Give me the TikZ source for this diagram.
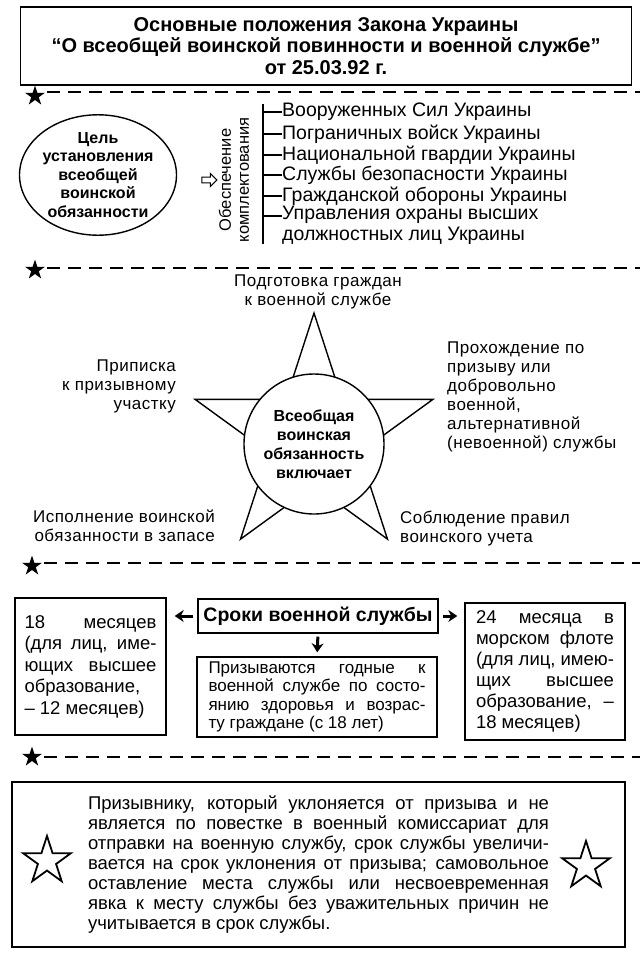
\documentclass[tikz,border=0pt]{standalone}
\usepackage{fontspec}
\setmainfont{Liberation Sans}
\usetikzlibrary{shapes.geometric, shapes.arrows, arrows.meta, positioning}
\newcommand{\fs}[2]{\fontsize{#1}{#2}\selectfont}

\begin{document}
\begin{tikzpicture}[x=1pt, y=-1pt,
    titlebox/.style={draw, line width=1.4pt, minimum width=611, minimum height=78,
                     align=center, font=\fs{20}{21.5}\bfseries},
    goal/.style={ellipse, draw, line width=1.4pt, minimum width=157, minimum height=110,
                 inner sep=0pt, align=center, font=\fs{16}{18.5}\bfseries},
    item/.style={anchor=west, inner sep=0pt, font=\fs{19.5}{21}},
    point/.style={inner sep=0pt, font=\fs{17}{19}\addfontfeature{LetterSpace=3}},
    divider/.style={line width=1.5pt, dash pattern=on 13pt off 8pt, shorten <=6pt},
    dotstar/.style={star, star points=5, star point ratio=2.618, fill=black,
                    minimum size=21, inner sep=0pt},
    hollowstar/.style={star, star points=5, star point ratio=2.618, draw,
                       line width=1.8pt, minimum size=50, inner sep=0pt},
    termbox/.style={draw, line width=1.4pt, font=\fs{18.5}{21.5}},
    arrow/.style={-{Stealth[length=9pt, width=12pt]}, line width=3pt}
]
    \useasboundingbox[fill=white] (0,0) rectangle (640,956);

    \node[titlebox] (title) at (326,46)
        {Основные положения Закона Украины\\“О всеобщей воинской повинности и военной службе”\\от 25.03.92 г.};

    \node[dotstar] (s1) at (35,96) {};
    \coordinate (e1) at (640,92);
    \draw[divider] (s1.east |- e1) -- (e1);

    \node[goal] (goal) at (98,175) {Цель\\установления\\всеобщей\\воинской\\обязанности};
    \node[single arrow, draw, line width=1pt, minimum height=15, minimum width=13,
          single arrow head extend=2pt, inner sep=1pt] (hollow) at (208,180) {};
    \node[rotate=90, align=center, inner sep=0pt, font=\fs{16.5}{18}] (supply) at (234,180)
        {Обеспечение\\комплектования};

    \coordinate (btop) at (263,104);
    \coordinate (bbot) at (263,244);
    \draw[line width=1.4pt] (btop) -- (bbot);
    \node[item] (i1) at (282,112) {Вооруженных Сил Украины};
    \node[item] (i2) at (282,134) {Пограничных войск Украины};
    \node[item] (i3) at (282,155) {Национальной гвардии Украины};
    \node[item] (i4) at (282,175) {Службы безопасности Украины};
    \node[item] (i5) at (282,196) {Гражданской обороны Украины};
    \node[item, anchor=north west, align=left] (i6) at (282,206)
        {Управления охраны высших\\должностных лиц Украины};
    \coordinate (i6tick) at ([yshift=-10pt]i6.north west);
    \draw[line width=1.2pt] (i1.west -| btop) -- (i1.west);
    \draw[line width=1.2pt] (i2.west -| btop) -- (i2.west);
    \draw[line width=1.2pt] (i3.west -| btop) -- (i3.west);
    \draw[line width=1.2pt] (i4.west -| btop) -- (i4.west);
    \draw[line width=1.2pt] (i5.west -| btop) -- (i5.west);
    \draw[line width=1.2pt] (i6tick -| btop) -- (i6tick);

    \node[dotstar] (s2) at (35,270) {};
    \coordinate (e2) at (640,268);
    \draw[divider] (s2.east |- e2) -- (e2);

    \node[star, star points=5, star point ratio=2.618, draw, line width=1.4pt,
          minimum size=250, inner sep=0pt] (bigstar) at (314,438) {};
    \node[circle, draw, line width=1.4pt, fill=white, minimum size=140, inner sep=0pt,
          align=center, font=\fs{16}{19}\bfseries] (duty) at (314,444)
        {Всеобщая\\воинская\\обязанность\\включает};

    \node[point, align=center] (prep) at (318,292) {Подготовка граждан\\к военной службе};
    \node[point, align=right, anchor=east] (enrol) at (176,386) {Приписка\\к призывному\\участку};
    \node[point, align=left, anchor=west] (serve) at (447,397)
        {Прохождение по\\призыву или\\добровольно\\военной,\\альтернативной\\(невоенной) службы};
    \node[point, align=right, anchor=east] (reserve) at (215,526)
        {Исполнение воинской\\обязанности в запасе};
    \node[point, align=left, anchor=west] (record) at (400,529)
        {Соблюдение правил\\воинского учета};

    \node[dotstar] (s3) at (32,566) {};
    \coordinate (e3) at (640,563);
    \draw[divider] (s3.east |- e3) -- (e3);

    \node[termbox, minimum width=240, minimum height=34, inner sep=2pt,
          font=\fs{19.5}{21}\bfseries] (terms) at (318,616) {Сроки военной службы};
    \node[termbox, minimum width=151, minimum height=137, text width=132, align=justify]
        (short) at (90.5,666.5)
        {18 месяцев\linebreak (для лиц, име-\linebreak ющих высшее\linebreak
         образование,\linebreak – 12 месяцев)\par\vspace{18pt}};
    \node[termbox, minimum width=240, minimum height=80, text width=217, align=justify,
          font=\fs{17}{18.5}] (call) at (317,697)
        {Призываются годные к\linebreak военной службе по состо-\linebreak
         янию здоровья и возрас-\linebreak ту граждане (с 18 лет)};
    \node[termbox, minimum width=160, minimum height=137, text width=138, align=justify,
          font=\fs{18.5}{21}] (navy) at (545,671.5)
        {24 месяца в\linebreak морском флоте\linebreak (для лиц, имею-\linebreak
         щих высшее\linebreak образование, –\linebreak 18 месяцев)};

    \draw[arrow, shorten <=4pt, shorten >=8pt] (terms.west) -- (terms.west -| short.east);
    \draw[arrow, shorten <=4pt, shorten >=7pt] (terms.east) -- (terms.east -| navy.west);
    \draw[arrow, shorten <=3pt, shorten >=4pt] (terms.south) -- (call.north);

    \node[dotstar] (s4) at (32,757) {};
    \coordinate (e4) at (640,757);
    \draw[divider] (s4.east |- e4) -- (e4);

    \node[termbox, minimum width=613, minimum height=165, text width=461, align=justify,
          font=\fs{18.5}{20}] (note) at (318.5,864.5)
        {Призывнику, который уклоняется от призыва и не\linebreak
         является по повестке в военный комиссариат для\linebreak
         отправки на военную службу, срок службы увеличи-\linebreak
         вается на срок уклонения от призыва; самовольное\linebreak
         оставление места службы или несвоевременная\linebreak
         явка к месту службы без уважительных причин не\linebreak
         учитывается в срок службы.};
    \node[hollowstar] (lstar) at (47,861) {};
    \node[hollowstar] (rstar) at (586,866) {};
\end{tikzpicture}
\end{document}
